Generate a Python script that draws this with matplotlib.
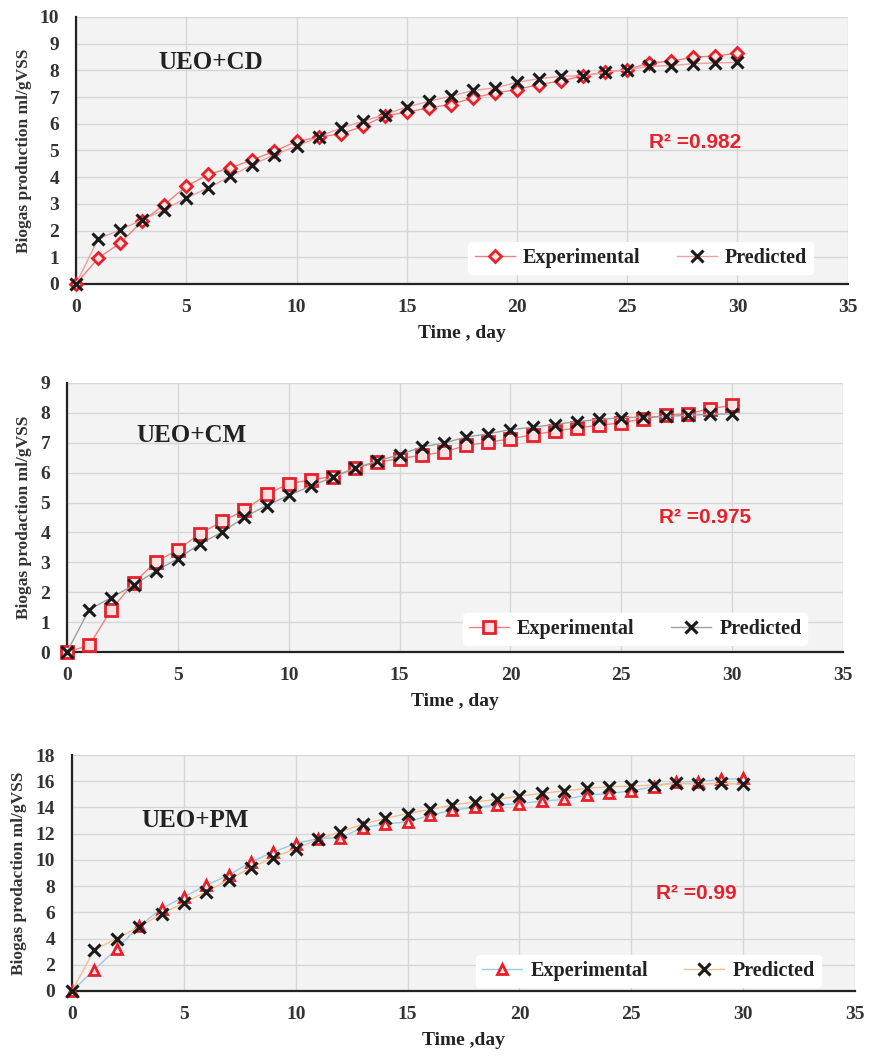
import matplotlib
matplotlib.use("Agg")
import matplotlib.pyplot as plt
import numpy as np

days = list(range(31))

cd_exp = [0, 0.97, 1.53, 2.35, 2.97, 3.66, 4.1, 4.35, 4.65, 4.97, 5.34, 5.5, 5.62, 5.9, 6.3, 6.43,
          6.6, 6.72, 6.97, 7.15, 7.28, 7.47, 7.6, 7.8, 7.93, 8.03, 8.28, 8.34, 8.5, 8.53, 8.65]
cd_pred = [0, 1.69, 2.03, 2.4, 2.78, 3.22, 3.6, 4.03, 4.47, 4.84, 5.16, 5.5, 5.84, 6.09, 6.34, 6.63,
           6.84, 7.03, 7.25, 7.34, 7.55, 7.69, 7.78, 7.8, 7.93, 8.03, 8.15, 8.18, 8.25, 8.28, 8.3]

cm_exp = [0, 0.22, 1.42, 2.31, 3.01, 3.42, 3.96, 4.37, 4.74, 5.27, 5.63, 5.76, 5.87, 6.15, 6.35, 6.47,
          6.58, 6.69, 6.91, 7.02, 7.13, 7.27, 7.39, 7.5, 7.58, 7.67, 7.8, 7.92, 7.97, 8.14, 8.25]
cm_pred = [0, 1.42, 1.82, 2.23, 2.71, 3.12, 3.62, 4.01, 4.51, 4.9, 5.24, 5.55, 5.85, 6.15, 6.39, 6.6,
           6.86, 6.99, 7.19, 7.3, 7.44, 7.52, 7.61, 7.71, 7.78, 7.84, 7.86, 7.88, 7.92, 7.95, 7.97]

pm_exp = [0, 1.63, 3.23, 4.94, 6.29, 7.18, 8.07, 8.83, 9.85, 10.6, 11.25, 11.63, 11.7, 12.47, 12.73, 12.9,
          13.4, 13.8, 14.0, 14.18, 14.3, 14.49, 14.61, 14.94, 15.07, 15.27, 15.58, 15.96, 15.96, 16.14, 16.22]
pm_pred = [0, 3.16, 4.0, 4.89, 5.9, 6.72, 7.56, 8.5, 9.42, 10.18, 10.87, 11.56, 12.14, 12.73, 13.16, 13.54,
           13.85, 14.18, 14.43, 14.61, 14.87, 15.07, 15.27, 15.45, 15.58, 15.63, 15.71, 15.83, 15.78, 15.83, 15.78]

labels = ["UEO+CD", "UEO+CM", "UEO+PM"]
r2_texts = ["R² =0.982", "R² =0.975", "R² =0.99"]
ylabels = ["Biogas production ml/gVSS", "Biogas prodaction ml/gVSS", "Biogas prodaction ml/gVSS"]
xlabels = ["Time , day", "Time , day", "Time ,day"]
xticks = [0, 5, 10, 15, 20, 25, 30, 35]
yticks_list = [list(range(0, 11)), list(range(0, 10)), list(range(0, 19, 2))]

serif = "Liberation Serif"
sans = "Liberation Sans"

fig = plt.figure(figsize=(8.7, 10.6), dpi=100)

positions = [
    [0.0874, 0.7321, 0.887, 0.2519],
    [0.0770, 0.3849, 0.892, 0.2538],
    [0.0828, 0.0651, 0.900, 0.2226],
]

exp_series = [cd_exp, cm_exp, pm_exp]
pred_series = [cd_pred, cm_pred, pm_pred]
exp_markers = ["D", "s", "^"]
exp_msizes = [6, 8, 7]
exp_linecolors = ["#f08080", "#f08080", "#9ec9e8"]
pred_linecolors = ["#f0a0a0", "#a0a0a0", "#f5c08a"]
label_pos = [(6.1, 8.3), (5.6, 7.25), (5.5, 13.0)]
r2_pos = [(26.0, 5.3), (26.7, 4.5), (26.1, 7.45)]
legend_anchor = [(0.732, 0.097), (0.732, 0.085), (0.736, 0.085)]

for i in range(3):
    ax = fig.add_axes(positions[i])
    ax.set_facecolor("#f3f3f3")
    yt = yticks_list[i]
    ax.set_xlim(0, 35)
    ax.set_ylim(0, yt[-1])
    ax.set_xticks(xticks)
    ax.set_yticks(yt)
    ax.grid(True, color="#d6d6d6", linewidth=1.0)
    ax.set_axisbelow(True)
    for s in ["top", "right"]:
        ax.spines[s].set_visible(False)
    for s in ["left", "bottom"]:
        ax.spines[s].set_color("#222222")
        ax.spines[s].set_linewidth(1.6)
    ax.tick_params(axis="y", length=0, pad=12)
    ax.tick_params(axis="x", length=0, pad=11)
    for lab in ax.get_xticklabels() + ax.get_yticklabels():
        lab.set_fontfamily(serif)
        lab.set_fontweight("bold")
        lab.set_fontsize(14)
        lab.set_color("#333333")

    ax.plot(days, exp_series[i], color=exp_linecolors[i], linewidth=1.0,
            marker=exp_markers[i], markersize=exp_msizes[i], markerfacecolor="#fbe3e3",
            markeredgecolor="#e8202a", markeredgewidth=2.0, label="Experimental", zorder=3,
            clip_on=False)
    ax.plot(days, pred_series[i], color=pred_linecolors[i], linewidth=1.0,
            marker="x", markersize=9, markeredgecolor="#1a1a1a", markeredgewidth=2.2,
            label="Predicted", zorder=4, clip_on=False)

    ax.text(label_pos[i][0], label_pos[i][1], labels[i], fontfamily=serif, fontweight="bold",
            fontsize=18, color="#222222", ha="center", va="center")
    ax.text(r2_pos[i][0], r2_pos[i][1], r2_texts[i], fontfamily=sans,
            fontweight="bold", fontsize=15, color="#e8202a", ha="left", va="center")

    leg = ax.legend(loc="center", bbox_to_anchor=legend_anchor[i], ncol=2, frameon=True,
                    prop={"family": serif, "weight": "bold", "size": 14.5},
                    handlelength=2.0, columnspacing=1.8, handletextpad=0.4,
                    borderpad=0.3)
    leg.get_frame().set_facecolor("white")
    leg.get_frame().set_edgecolor("white")
    leg.get_frame().set_alpha(1.0)
    for t in leg.get_texts():
        t.set_color("#222222")

    ax.set_xlabel(xlabels[i], fontfamily=serif, fontweight="bold", fontsize=14,
                  color="#222222", labelpad=6)
    ax.set_ylabel(ylabels[i], fontfamily=serif, fontweight="bold", fontsize=12.5,
                  color="#333333", labelpad=6)

fig.savefig("out.png", dpi=100)
